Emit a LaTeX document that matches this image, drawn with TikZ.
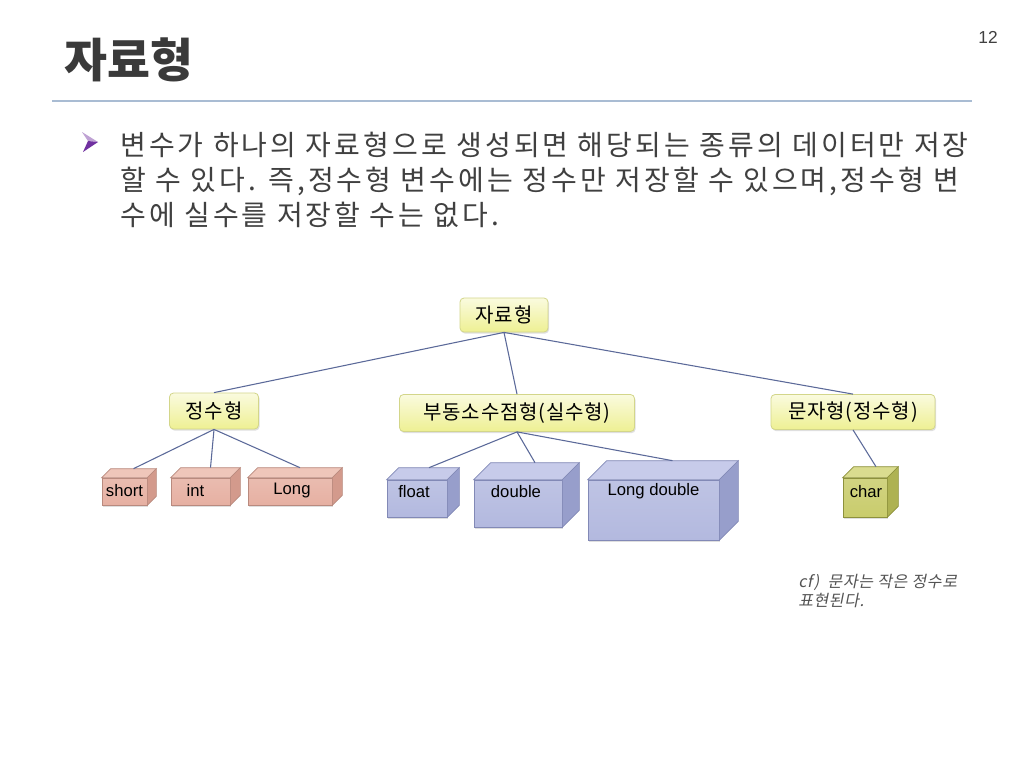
\documentclass[tikz,border=0pt]{standalone}
\usepackage{fontspec}
\setmainfont{Liberation Sans}
\newfontfamily\kr{Noto Sans CJK KR}
\newfontfamily\krlargo[LetterSpace=11]{Noto Sans CJK KR}
\newfontfamily\krtipo[LetterSpace=4]{Noto Sans CJK KR}
\newfontfamily\krit[FakeSlant=0.2, LetterSpace=4]{Noto Sans CJK KR}
\usepackage{tikz}
\usetikzlibrary{calc, shadows}

\definecolor{titulo}{HTML}{3A3A3A}
\definecolor{texto}{HTML}{404040}
\definecolor{linha}{HTML}{A9BCD3}
\definecolor{seta}{HTML}{7030A0}
\definecolor{conector}{HTML}{5B6999}
\definecolor{amarelo}{HTML}{EEF093}
\definecolor{amareloborda}{HTML}{D3D68A}
\definecolor{rosa}{HTML}{E6B0A2}
\definecolor{rosatopo}{HTML}{EFC6BA}
\definecolor{rosalado}{HTML}{D39A8C}
\definecolor{rosaborda}{HTML}{B98A7E}
\definecolor{azul}{HTML}{B3B9DF}
\definecolor{azultopo}{HTML}{C7CBEA}
\definecolor{azullado}{HTML}{979ECB}
\definecolor{azulborda}{HTML}{8289B6}
\definecolor{oliva}{HTML}{C9CC6C}
\definecolor{olivatopo}{HTML}{DADC8F}
\definecolor{olivalado}{HTML}{AEB252}
\definecolor{olivaborda}{HTML}{8D913C}

% faces de cima e do lado de uma caixa
\newcommand{\caixa}[3]{%
  \filldraw[fill=#3topo, draw=#3borda, line width=0.5pt]
    (#1.north west) -- ++(#2,-#2) -- ($(#1.north east)+(#2,-#2)$) -- (#1.north east) -- cycle;
  \filldraw[fill=#3lado, draw=#3borda, line width=0.5pt]
    (#1.north east) -- ++(#2,-#2) -- ($(#1.south east)+(#2,-#2)$) -- (#1.south east) -- cycle;
  \coordinate (#1 topo) at ($(#1.north)+(#2,-#2)$);
}

\tikzset{
  dim/.style 2 args={minimum width=#1*0.75pt, minimum height=#2*0.75pt},
  tipo/.style={rounded corners=3pt, draw=amareloborda, line width=0.6pt,
    top color=amarelo!30!white, bottom color=amarelo,
    drop shadow={opacity=0.25, shadow xshift=0.8pt, shadow yshift=-1.2pt},
    font=\krtipo\fontsize{15}{17}\selectfont, inner sep=0pt},
  frente/.style={draw=#1borda, line width=0.5pt,
    top color=#1!85!white, bottom color=#1,
    drop shadow={opacity=0.25, shadow xshift=0.8pt, shadow yshift=-1.2pt},
    inner sep=0pt},
  rotulo/.style={font=\fontsize{12.5}{14}\selectfont, inner sep=0pt},
  ramo/.style={draw=conector, line width=0.8pt},
  corpo/.style={font=\krlargo\fontsize{21}{25}\selectfont, text=texto, inner sep=0pt}
}

\begin{document}
\begin{tikzpicture}[x=0.75pt, y=-0.75pt]
  \useasboundingbox (0,0) rectangle (1024,768);
  \fill[white] (0,0) rectangle (1024,768);

  % titulo
  \node[anchor=base west, inner sep=0pt, text=titulo, font=\kr\bfseries\fontsize{35}{40}\selectfont] (titulo) at (64,77) {자료형};
  \node[inner sep=0pt, text=texto, font=\fontsize{13}{15}\selectfont] (pagina) at (988,37) {12};
  \draw[linha, line width=1.1pt] (52,101) -- (972,101);

  % texto
  \fill[seta!45!white] (82,132) -- (98,142) -- (88,141) -- cycle;
  \fill[seta] (88,141) -- (98,142) -- (83,152) -- cycle;
  \node[corpo, anchor=base west] (linha1) at (120,155) {변수가 하나의 자료형으로 생성되면 해당되는 종류의 데이터만 저장};
  \node[corpo, anchor=base west] (linha2) at (120,190) {할 수 있다. 즉,정수형 변수에는 정수만 저장할 수 있으며,정수형 변};
  \node[corpo, anchor=base west] (linha3) at (120,225) {수에 실수를 저장할 수는 없다.};

  % tipos
  \node[tipo, dim={88}{34}] (raiz) at (504,315) {자료형};
  \node[tipo, dim={89}{36}] (inteiro) at (214,411) {정수형};
  \node[tipo, dim={235}{37}] (real) at (517,413) {부동소수점형(실수형)};
  \node[tipo, dim={164}{35}] (letra) at (853,412) {문자형(정수형)};

  % caixas
  \node[frente=rosa, dim={45}{27}] (short) at (124.5,491.5) {};
  \caixa{short}{9}{rosa}
  \node[frente=rosa, dim={59}{27}] (int) at (200.5,491.5) {};
  \caixa{int}{10}{rosa}
  \node[frente=rosa, dim={84}{27}] (long) at (290,491.5) {};
  \caixa{long}{10}{rosa}
  \node[frente=azul, dim={60}{37}] (float) at (417,498.5) {};
  \caixa{float}{12}{azul}
  \node[frente=azul, dim={88}{47}] (double) at (518,503.5) {};
  \caixa{double}{17}{azul}
  \node[frente=azul, dim={131}{60}] (longdouble) at (653.5,510) {};
  \caixa{longdouble}{19}{azul}
  \node[frente=oliva, dim={44}{39}] (char) at (865,497.5) {};
  \caixa{char}{11}{oliva}

  \node[rotulo] (short rotulo) at ($(short.north)+(0,13)$) {short};
  \node[rotulo] (int rotulo) at ($(int.north)+(-5,13)$) {int};
  \node[rotulo] (long rotulo) at ($(long.north)+(2,13)$) {Long};
  \node[rotulo] (float rotulo) at ($(float.north)+(-3,12)$) {float};
  \node[rotulo] (double rotulo) at ($(double.north)+(-2,12)$) {double};
  \node[rotulo] (longdouble rotulo) at ($(longdouble.north)+(0,12)$) {Long double};
  \node[rotulo] (char rotulo) at ($(char.north)+(1,14)$) {char};

  % ligacoes
  \draw[ramo] (raiz.south) -- (inteiro.north);
  \draw[ramo] (raiz.south) -- (real.north);
  \draw[ramo] (raiz.south) -- (letra.north);
  \draw[ramo] (inteiro.south) -- (short topo);
  \draw[ramo] (inteiro.south) -- (int topo);
  \draw[ramo] (inteiro.south) -- (long topo);
  \draw[ramo] (real.south) -- (float topo);
  \draw[ramo] (real.south) -- (double topo);
  \draw[ramo] (real.south) -- (longdouble topo);
  \draw[ramo] (letra.south) -- (char topo);

  % nota
  \node[anchor=north west, align=left, inner sep=0pt, text=texto!90!white,
    font=\krit\fontsize{12}{14.3}\selectfont] (nota) at (798,574) {cf)\ \ 문자는 작은 정수로\\표현된다.};
\end{tikzpicture}
\end{document}
